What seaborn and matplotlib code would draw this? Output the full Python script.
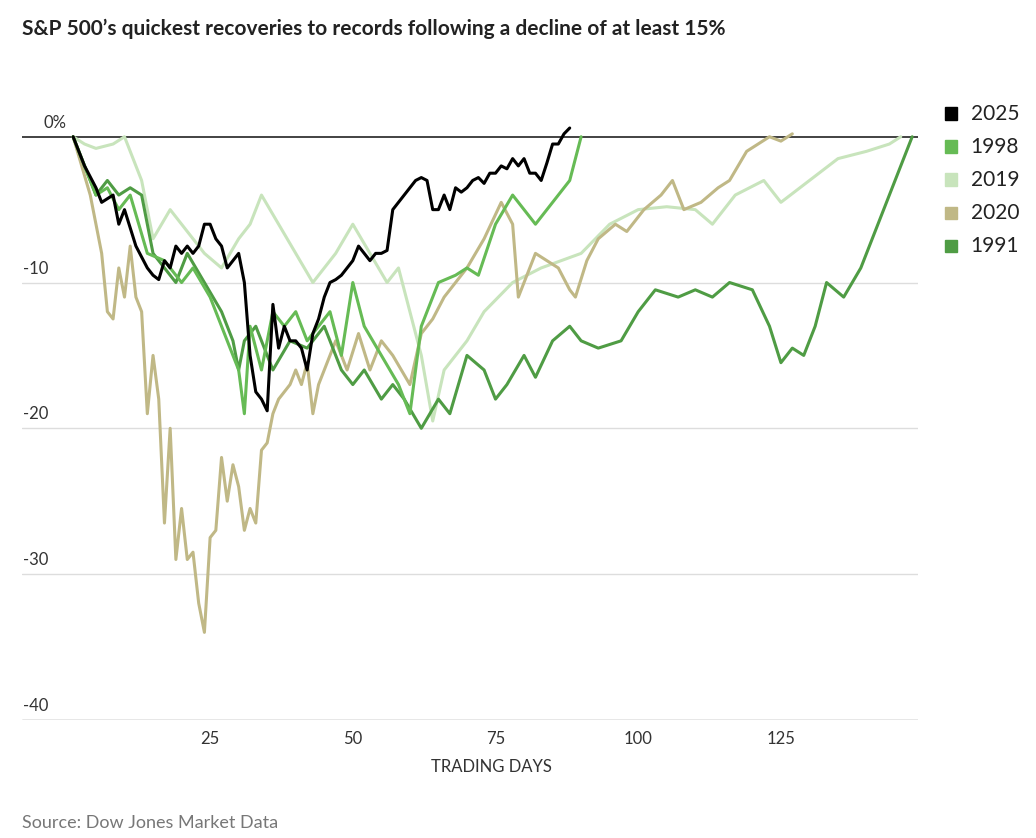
import matplotlib
matplotlib.use("Agg")
import matplotlib.pyplot as plt
import seaborn as sns
import pandas as pd

# data (trading day, % from record)
days_2025 = [1,3,5,6,8,9,10,12,14,15,16,17,18,19,20,21,22,23,24,25,26,27,28,29,30,31,32,33,34,35,36,37,38,39,40,41,42,43,44,45,46,47,48,49,50,51,52,53,54,55,56,57,58,59,60,61,62,63,64,65,66,67,68,69,70,71,72,73,74,75,76,77,78,79,80,81,82,83,84,85,86,87,88]
vals_2025 = [0,-2,-3.5,-4.5,-4,-6,-5,-7.5,-9,-9.5,-9.8,-8.5,-9,-7.5,-8,-7.5,-8,-7.5,-6,-6,-7,-7.5,-9,-8.5,-8,-10,-15,-17.5,-18,-18.8,-11.5,-14.5,-13,-14,-14,-14.5,-16,-13.5,-12.5,-11,-10,-9.8,-9.5,-9,-8.5,-7.5,-8,-8.5,-8,-8,-7.8,-5,-4.5,-4,-3.5,-3,-2.8,-3,-5,-5,-4,-5,-3.5,-3.8,-3.5,-3,-2.8,-3.2,-2.5,-2.5,-2,-2.2,-1.5,-2,-1.5,-2.5,-2.5,-3,-1.8,-0.5,-0.5,0.2,0.6]

days_1998 = [1,3,5,7,9,11,14,17,20,22,25,27,28,30,31,32,34,36,38,40,42,44,46,48,50,52,55,58,60,62,65,68,70,72,75,78,80,82,85,88,90]
vals_1998 = [0,-2,-4,-3.5,-5,-4,-8,-8.5,-10,-9,-11,-13,-14,-16,-19,-13,-16,-12,-13,-12,-14,-13,-12,-15,-10,-13,-15,-17,-19,-13,-10,-9.5,-9,-9.5,-6,-4,-5,-6,-4.5,-3,0]

days_2019 = [1,3,5,8,10,13,15,18,20,24,27,30,32,34,37,40,43,47,50,53,56,58,60,62,64,66,70,73,78,83,90,95,100,105,110,113,117,122,125,130,135,140,144,146]
vals_2019 = [0,-0.5,-0.8,-0.5,0,-3,-7,-5,-6,-8,-9,-7,-6,-4,-6,-8,-10,-8,-6,-8,-10,-9,-12,-15,-19.5,-16,-14,-12,-10,-9,-8,-6,-5,-4.8,-5,-6,-4,-3,-4.5,-3,-1.5,-1,-0.5,0]

days_2020 = [1,4,6,7,8,9,10,11,12,13,14,15,16,17,18,19,20,21,22,23,24,25,26,27,28,29,30,31,32,33,34,35,36,37,38,39,40,41,42,43,44,45,47,49,51,53,55,57,60,62,64,66,68,70,73,76,78,79,80,82,84,86,88,89,91,93,96,98,101,104,106,108,111,114,116,119,121,123,125,127]
vals_2020 = [0,-4,-8,-12,-12.5,-9,-11,-7.5,-11,-12,-19,-15,-18,-26.5,-20,-29,-25.5,-29,-28.5,-32,-34,-27.5,-27,-22,-25,-22.5,-24,-27,-25.5,-26.5,-21.5,-21,-19,-18,-17.5,-17,-16,-17,-15.5,-19,-17,-16,-14,-16,-13.5,-16,-14,-15,-17,-13.5,-12.5,-11,-10,-9,-7,-4.5,-6,-11,-10,-8,-8.5,-9,-10.5,-11,-8.5,-7,-6,-6.5,-5,-4,-3,-5,-4.5,-3.5,-3,-1,-0.5,0,-0.3,0.2]

days_1991 = [1,3,5,7,9,11,13,15,17,19,21,24,27,29,30,31,33,36,39,42,45,48,50,52,55,57,59,62,65,67,70,73,75,77,80,82,85,88,90,93,97,100,103,107,110,113,116,120,123,125,127,129,131,133,136,139,142,145,147,148]
vals_1991 = [0,-2,-4,-3,-4,-3.5,-4,-8,-9,-10,-8,-10,-12,-14,-16,-14,-13,-16,-14,-14.5,-13,-16,-17,-16,-18,-17,-18,-20,-18,-19,-15,-16,-18,-17,-15,-16.5,-14,-13,-14,-14.5,-14,-12,-10.5,-11,-10.5,-11,-10,-10.5,-13,-15.5,-14.5,-15,-13,-10,-11,-9,-6,-3,-1,0]

years = ["2025", "1998", "2019", "2020", "1991"]
colors = {"2025": "#000000", "1998": "#66bb55", "2019": "#c8e4bc",
          "2020": "#c0b886", "1991": "#4f9c44"}
series = {"2025": (days_2025, vals_2025), "1998": (days_1998, vals_1998),
          "2019": (days_2019, vals_2019), "2020": (days_2020, vals_2020),
          "1991": (days_1991, vals_1991)}

sns.set_style("white")
plt.rcParams['font.family'] = ['Lato', 'DejaVu Sans']

fig = plt.figure(figsize=(10.36, 8.38), dpi=100)
ax = fig.add_axes([0.021, 0.141, 0.865, 0.728])

# gridlines + labels
for v in [-10, -20, -30]:
    ax.axhline(v, color="#dddddd", lw=1, zorder=0)
ax.axhline(-40, color="#888888", lw=1, zorder=0)
ax.axhline(0, color="#222222", lw=1.2, zorder=1)
for v, lab in [(0, "0%"), (-10, "-10"), (-20, "-20"), (-30, "-30"), (-40, "-40")]:
    x = -4.2 if v == 0 else -7.7
    ax.text(x, v + 0.4, lab, fontsize=12, color="#333333", va="bottom", ha="left")

# draw from the back so 2025 sits on top
for yr in ["2019", "2020", "1991", "1998", "2025"]:
    d, v = series[yr]
    df = pd.DataFrame({"day": d, "pct": v})
    sns.lineplot(data=df, x="day", y="pct", ax=ax, color=colors[yr], lw=2.2,
                 zorder=3 if yr == "2025" else 2)

ax.set_xlim(-8, 149)
ax.set_ylim(-40, 1.85)
ax.set_xticks([25, 50, 75, 100, 125])
ax.set_xticklabels(["25", "50", "75", "100", "125"], fontsize=12, color="#333333")
ax.set_yticks([])
ax.tick_params(axis="x", length=0, pad=8)
ax.set_xlabel("TRADING DAYS", fontsize=12, color="#333333")
ax.xaxis.set_label_coords(0.524, -0.065)
ax.set_ylabel("")
for s in ax.spines.values():
    s.set_visible(False)

# legend
for i, yr in enumerate(years):
    y = 0.864 - i * 0.0395
    fig.patches.append(plt.Rectangle((0.912, y - 0.007), 0.012, 0.015,
                                     transform=fig.transFigure, color=colors[yr]))
    fig.text(0.937, y, yr, fontsize=15, va="center", color="#222222")

fig.text(0.021, 0.965, "S&P 500\u2019s quickest recoveries to records following a decline of at least 15%",
         fontsize=15, fontweight="bold", color="#222222", va="center")
fig.text(0.021, 0.012, "Source: Dow Jones Market Data", fontsize=13, color="#777777")

fig.savefig("out.png", dpi=100)
